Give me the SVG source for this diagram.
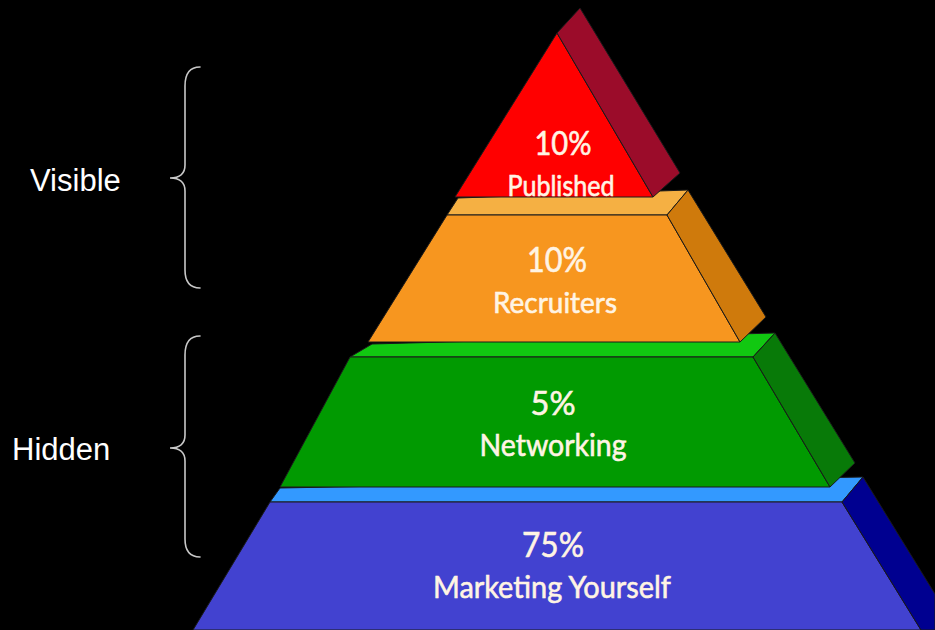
<svg xmlns="http://www.w3.org/2000/svg" width="935" height="630" viewBox="0 0 935 630">
<defs>
<style>
.edge{stroke:#1a1a1a;stroke-width:1;stroke-linejoin:round}
.lbl{font-family:Lato,"Noto Sans","DejaVu Sans",sans-serif;fill:#FFF4E4;stroke:#FFF4E4;stroke-width:0.6;text-anchor:middle}
.side{font-family:"Liberation Sans",Arial,sans-serif;font-size:31px;fill:#FFFFFF}
.brace{fill:none;stroke:#C8C8C8;stroke-width:1.6;stroke-linecap:round}
</style>
</defs>
<rect width="935" height="630" fill="#000000"/>
<g id="braces">
<path class="brace" d="M200,67 C191,67 185,72 185,86 L185,165 C185,173 180,178 170,178 C180,178 185,183 185,191 L185,270 C185,283 191,288 200,288"/>
<path class="brace" d="M200,336 C191,336 185,341 185,355 L185,435 C185,443 180,448 170,448 C180,448 185,453 185,461 L185,539 C185,552 191,557 200,557"/>
</g>
<g id="label-visible"><text class="side" x="30" y="191">Visible</text></g>
<g id="label-hidden"><text class="side" x="12" y="460">Hidden</text></g>
<g id="layer-marketing">
<polygon class="edge" fill="#3399FF" points="270,502 842,502 863,477 280,488"/>
<polygon class="edge" fill="#4242D0" points="270,502 842,502 921,630 193,630"/>
<polygon class="edge" fill="#000090" points="842,502 863,477 935,594 935,630 921,630"/>
<text class="lbl" x="553" y="557" font-size="34" textLength="62" lengthAdjust="spacingAndGlyphs">75%</text>
<text class="lbl" x="552" y="598" font-size="31" textLength="238" lengthAdjust="spacingAndGlyphs">Marketing Yourself</text>
</g>
<g id="layer-networking">
<polygon class="edge" fill="#11C811" points="350,357 753,357 775,333 372,344"/>
<polygon class="edge" fill="#019A01" points="350,357 753,357 830,487 280,487"/>
<polygon class="edge" fill="#087A08" points="753,357 775,333 855,463 830,487"/>
<text class="lbl" x="553" y="415" font-size="33" textLength="45" lengthAdjust="spacingAndGlyphs">5%</text>
<text class="lbl" x="553" y="456" font-size="31" textLength="147" lengthAdjust="spacingAndGlyphs">Networking</text>
</g>
<g id="layer-recruiters">
<polygon class="edge" fill="#F5B043" points="447,215 667,215 688,190 458,198"/>
<polygon class="edge" fill="#F7961F" points="447,215 667,215 740,342 368,342"/>
<polygon class="edge" fill="#CF7A0C" points="667,215 688,190 766,317 740,342"/>
<text class="lbl" x="557" y="272" font-size="35" textLength="60" lengthAdjust="spacingAndGlyphs">10%</text>
<text class="lbl" x="555" y="313" font-size="29" textLength="124" lengthAdjust="spacingAndGlyphs">Recruiters</text>
</g>
<g id="layer-published">
<polygon class="edge" fill="#FF0000" points="557,33 653,197 455,197"/>
<polygon class="edge" fill="#9B0C2A" points="557,33 580,8 680,173 653,197"/>
<text class="lbl" x="563" y="155" font-size="33" textLength="57" lengthAdjust="spacingAndGlyphs">10%</text>
<text class="lbl" x="561" y="196" font-size="28" textLength="107" lengthAdjust="spacingAndGlyphs">Published</text>
</g>
</svg>
